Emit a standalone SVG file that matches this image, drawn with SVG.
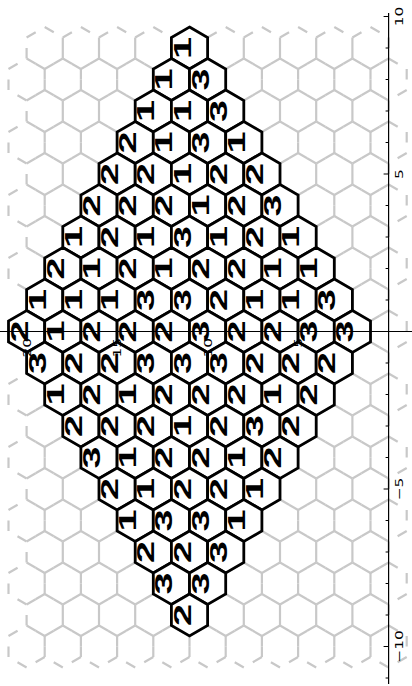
<svg xmlns="http://www.w3.org/2000/svg" width="412" height="686" viewBox="0 0 412 686">
<style>
.g{fill:none;stroke:#c8c8c8;stroke-width:2.2;stroke-dasharray:10.5 60}
.b{fill:#fff;stroke:#000;stroke-width:2.8;stroke-linejoin:miter}
.d{font-family:"Liberation Sans",Arial,sans-serif;font-weight:bold;font-size:24px;text-anchor:middle;fill:#000}
.ax{stroke:#000;stroke-width:1.2;fill:none}
.tl{font-family:"DejaVu Sans",sans-serif;font-size:11px;fill:#000}
</style>
<defs>
<path id="hx" d="M0,-21L18.1,-10.5L18.1,10.5L0,21L-18.1,10.5L-18.1,-10.5Z"/>
<path id="gh" class="g" d="M0,-21L18.1,-10.5M18.1,-10.5L18.1,10.5M18.1,10.5L0,21M0,21L-18.1,10.5M-18.1,10.5L-18.1,-10.5M-18.1,-10.5L0,-21"/>
<g id="rowE"><use href="#gh" x="44.7"/><use href="#gh" x="80.9"/><use href="#gh" x="117.1"/><use href="#gh" x="153.3"/><use href="#gh" x="189.5"/><use href="#gh" x="225.7"/><use href="#gh" x="261.9"/><use href="#gh" x="298.1"/><use href="#gh" x="334.3"/><use href="#gh" x="370.5"/></g>
<g id="rowO"><use href="#gh" x="26.6"/><use href="#gh" x="62.8"/><use href="#gh" x="99"/><use href="#gh" x="135.2"/><use href="#gh" x="171.4"/><use href="#gh" x="207.6"/><use href="#gh" x="243.8"/><use href="#gh" x="280"/><use href="#gh" x="316.2"/><use href="#gh" x="352.4"/><use href="#gh" x="388.6"/></g>
</defs>
<rect width="412" height="686" fill="#fff"/>
<g id="grid">
<use href="#rowE" y="48"/><use href="#rowO" y="79.5"/><use href="#rowE" y="111"/><use href="#rowO" y="142.5"/><use href="#rowE" y="174"/><use href="#rowO" y="205.5"/><use href="#rowE" y="237"/><use href="#rowO" y="268.5"/><use href="#rowE" y="300"/><use href="#rowO" y="331.5"/><use href="#rowE" y="363"/><use href="#rowO" y="394.5"/><use href="#rowE" y="426"/><use href="#rowO" y="457.5"/><use href="#rowE" y="489"/><use href="#rowO" y="520.5"/><use href="#rowE" y="552"/><use href="#rowO" y="583.5"/><use href="#rowE" y="615"/><use href="#rowO" y="646.5"/>
</g>
<g id="nodes">
<g id="n0-0"><use href="#hx" class="b" x="189.5" y="48"/><text class="d" transform="translate(190.5,48) rotate(-90) scale(1.65,1)">1</text></g>
<g id="n1-0"><use href="#hx" class="b" x="171.4" y="79.5"/><text class="d" transform="translate(172.4,79.5) rotate(-90) scale(1.65,1)">1</text></g>
<g id="n1-1"><use href="#hx" class="b" x="207.6" y="79.5"/><text class="d" transform="translate(208.6,79.5) rotate(-90) scale(1.65,1)">3</text></g>
<g id="n2-0"><use href="#hx" class="b" x="153.3" y="111"/><text class="d" transform="translate(154.3,111) rotate(-90) scale(1.65,1)">1</text></g>
<g id="n2-1"><use href="#hx" class="b" x="189.5" y="111"/><text class="d" transform="translate(190.5,111) rotate(-90) scale(1.65,1)">1</text></g>
<g id="n2-2"><use href="#hx" class="b" x="225.7" y="111"/><text class="d" transform="translate(226.7,111) rotate(-90) scale(1.65,1)">3</text></g>
<g id="n3-0"><use href="#hx" class="b" x="135.2" y="142.5"/><text class="d" transform="translate(136.2,142.5) rotate(-90) scale(1.65,1)">2</text></g>
<g id="n3-1"><use href="#hx" class="b" x="171.4" y="142.5"/><text class="d" transform="translate(172.4,142.5) rotate(-90) scale(1.65,1)">1</text></g>
<g id="n3-2"><use href="#hx" class="b" x="207.6" y="142.5"/><text class="d" transform="translate(208.6,142.5) rotate(-90) scale(1.65,1)">3</text></g>
<g id="n3-3"><use href="#hx" class="b" x="243.8" y="142.5"/><text class="d" transform="translate(244.8,142.5) rotate(-90) scale(1.65,1)">1</text></g>
<g id="n4-0"><use href="#hx" class="b" x="117.1" y="174"/><text class="d" transform="translate(118.1,174) rotate(-90) scale(1.65,1)">2</text></g>
<g id="n4-1"><use href="#hx" class="b" x="153.3" y="174"/><text class="d" transform="translate(154.3,174) rotate(-90) scale(1.65,1)">2</text></g>
<g id="n4-2"><use href="#hx" class="b" x="189.5" y="174"/><text class="d" transform="translate(190.5,174) rotate(-90) scale(1.65,1)">1</text></g>
<g id="n4-3"><use href="#hx" class="b" x="225.7" y="174"/><text class="d" transform="translate(226.7,174) rotate(-90) scale(1.65,1)">2</text></g>
<g id="n4-4"><use href="#hx" class="b" x="261.9" y="174"/><text class="d" transform="translate(262.9,174) rotate(-90) scale(1.65,1)">2</text></g>
<g id="n5-0"><use href="#hx" class="b" x="99" y="205.5"/><text class="d" transform="translate(100,205.5) rotate(-90) scale(1.65,1)">2</text></g>
<g id="n5-1"><use href="#hx" class="b" x="135.2" y="205.5"/><text class="d" transform="translate(136.2,205.5) rotate(-90) scale(1.65,1)">2</text></g>
<g id="n5-2"><use href="#hx" class="b" x="171.4" y="205.5"/><text class="d" transform="translate(172.4,205.5) rotate(-90) scale(1.65,1)">2</text></g>
<g id="n5-3"><use href="#hx" class="b" x="207.6" y="205.5"/><text class="d" transform="translate(208.6,205.5) rotate(-90) scale(1.65,1)">1</text></g>
<g id="n5-4"><use href="#hx" class="b" x="243.8" y="205.5"/><text class="d" transform="translate(244.8,205.5) rotate(-90) scale(1.65,1)">2</text></g>
<g id="n5-5"><use href="#hx" class="b" x="280" y="205.5"/><text class="d" transform="translate(281,205.5) rotate(-90) scale(1.65,1)">3</text></g>
<g id="n6-0"><use href="#hx" class="b" x="80.9" y="237"/><text class="d" transform="translate(81.9,237) rotate(-90) scale(1.65,1)">1</text></g>
<g id="n6-1"><use href="#hx" class="b" x="117.1" y="237"/><text class="d" transform="translate(118.1,237) rotate(-90) scale(1.65,1)">2</text></g>
<g id="n6-2"><use href="#hx" class="b" x="153.3" y="237"/><text class="d" transform="translate(154.3,237) rotate(-90) scale(1.65,1)">1</text></g>
<g id="n6-3"><use href="#hx" class="b" x="189.5" y="237"/><text class="d" transform="translate(190.5,237) rotate(-90) scale(1.65,1)">3</text></g>
<g id="n6-4"><use href="#hx" class="b" x="225.7" y="237"/><text class="d" transform="translate(226.7,237) rotate(-90) scale(1.65,1)">1</text></g>
<g id="n6-5"><use href="#hx" class="b" x="261.9" y="237"/><text class="d" transform="translate(262.9,237) rotate(-90) scale(1.65,1)">2</text></g>
<g id="n6-6"><use href="#hx" class="b" x="298.1" y="237"/><text class="d" transform="translate(299.1,237) rotate(-90) scale(1.65,1)">1</text></g>
<g id="n7-0"><use href="#hx" class="b" x="62.8" y="268.5"/><text class="d" transform="translate(63.8,268.5) rotate(-90) scale(1.65,1)">2</text></g>
<g id="n7-1"><use href="#hx" class="b" x="99" y="268.5"/><text class="d" transform="translate(100,268.5) rotate(-90) scale(1.65,1)">1</text></g>
<g id="n7-2"><use href="#hx" class="b" x="135.2" y="268.5"/><text class="d" transform="translate(136.2,268.5) rotate(-90) scale(1.65,1)">2</text></g>
<g id="n7-3"><use href="#hx" class="b" x="171.4" y="268.5"/><text class="d" transform="translate(172.4,268.5) rotate(-90) scale(1.65,1)">1</text></g>
<g id="n7-4"><use href="#hx" class="b" x="207.6" y="268.5"/><text class="d" transform="translate(208.6,268.5) rotate(-90) scale(1.65,1)">2</text></g>
<g id="n7-5"><use href="#hx" class="b" x="243.8" y="268.5"/><text class="d" transform="translate(244.8,268.5) rotate(-90) scale(1.65,1)">2</text></g>
<g id="n7-6"><use href="#hx" class="b" x="280" y="268.5"/><text class="d" transform="translate(281,268.5) rotate(-90) scale(1.65,1)">1</text></g>
<g id="n7-7"><use href="#hx" class="b" x="316.2" y="268.5"/><text class="d" transform="translate(317.2,268.5) rotate(-90) scale(1.65,1)">1</text></g>
<g id="n8-0"><use href="#hx" class="b" x="44.7" y="300"/><text class="d" transform="translate(45.7,300) rotate(-90) scale(1.65,1)">1</text></g>
<g id="n8-1"><use href="#hx" class="b" x="80.9" y="300"/><text class="d" transform="translate(81.9,300) rotate(-90) scale(1.65,1)">1</text></g>
<g id="n8-2"><use href="#hx" class="b" x="117.1" y="300"/><text class="d" transform="translate(118.1,300) rotate(-90) scale(1.65,1)">1</text></g>
<g id="n8-3"><use href="#hx" class="b" x="153.3" y="300"/><text class="d" transform="translate(154.3,300) rotate(-90) scale(1.65,1)">3</text></g>
<g id="n8-4"><use href="#hx" class="b" x="189.5" y="300"/><text class="d" transform="translate(190.5,300) rotate(-90) scale(1.65,1)">3</text></g>
<g id="n8-5"><use href="#hx" class="b" x="225.7" y="300"/><text class="d" transform="translate(226.7,300) rotate(-90) scale(1.65,1)">2</text></g>
<g id="n8-6"><use href="#hx" class="b" x="261.9" y="300"/><text class="d" transform="translate(262.9,300) rotate(-90) scale(1.65,1)">1</text></g>
<g id="n8-7"><use href="#hx" class="b" x="298.1" y="300"/><text class="d" transform="translate(299.1,300) rotate(-90) scale(1.65,1)">1</text></g>
<g id="n8-8"><use href="#hx" class="b" x="334.3" y="300"/><text class="d" transform="translate(335.3,300) rotate(-90) scale(1.65,1)">3</text></g>
<g id="n9-0"><use href="#hx" class="b" x="26.6" y="331.5"/><text class="d" transform="translate(27.6,331.5) rotate(-90) scale(1.65,1)">2</text></g>
<g id="n9-1"><use href="#hx" class="b" x="62.8" y="331.5"/><text class="d" transform="translate(63.8,331.5) rotate(-90) scale(1.65,1)">1</text></g>
<g id="n9-2"><use href="#hx" class="b" x="99" y="331.5"/><text class="d" transform="translate(100,331.5) rotate(-90) scale(1.65,1)">2</text></g>
<g id="n9-3"><use href="#hx" class="b" x="135.2" y="331.5"/><text class="d" transform="translate(136.2,331.5) rotate(-90) scale(1.65,1)">2</text></g>
<g id="n9-4"><use href="#hx" class="b" x="171.4" y="331.5"/><text class="d" transform="translate(172.4,331.5) rotate(-90) scale(1.65,1)">2</text></g>
<g id="n9-5"><use href="#hx" class="b" x="207.6" y="331.5"/><text class="d" transform="translate(208.6,331.5) rotate(-90) scale(1.65,1)">3</text></g>
<g id="n9-6"><use href="#hx" class="b" x="243.8" y="331.5"/><text class="d" transform="translate(244.8,331.5) rotate(-90) scale(1.65,1)">2</text></g>
<g id="n9-7"><use href="#hx" class="b" x="280" y="331.5"/><text class="d" transform="translate(281,331.5) rotate(-90) scale(1.65,1)">2</text></g>
<g id="n9-8"><use href="#hx" class="b" x="316.2" y="331.5"/><text class="d" transform="translate(317.2,331.5) rotate(-90) scale(1.65,1)">3</text></g>
<g id="n9-9"><use href="#hx" class="b" x="352.4" y="331.5"/><text class="d" transform="translate(353.4,331.5) rotate(-90) scale(1.65,1)">3</text></g>
<g id="n10-0"><use href="#hx" class="b" x="44.7" y="363"/><text class="d" transform="translate(45.7,363) rotate(-90) scale(1.65,1)">3</text></g>
<g id="n10-1"><use href="#hx" class="b" x="80.9" y="363"/><text class="d" transform="translate(81.9,363) rotate(-90) scale(1.65,1)">2</text></g>
<g id="n10-2"><use href="#hx" class="b" x="117.1" y="363"/><text class="d" transform="translate(118.1,363) rotate(-90) scale(1.65,1)">2</text></g>
<g id="n10-3"><use href="#hx" class="b" x="153.3" y="363"/><text class="d" transform="translate(154.3,363) rotate(-90) scale(1.65,1)">3</text></g>
<g id="n10-4"><use href="#hx" class="b" x="189.5" y="363"/><text class="d" transform="translate(190.5,363) rotate(-90) scale(1.65,1)">3</text></g>
<g id="n10-5"><use href="#hx" class="b" x="225.7" y="363"/><text class="d" transform="translate(226.7,363) rotate(-90) scale(1.65,1)">3</text></g>
<g id="n10-6"><use href="#hx" class="b" x="261.9" y="363"/><text class="d" transform="translate(262.9,363) rotate(-90) scale(1.65,1)">2</text></g>
<g id="n10-7"><use href="#hx" class="b" x="298.1" y="363"/><text class="d" transform="translate(299.1,363) rotate(-90) scale(1.65,1)">2</text></g>
<g id="n10-8"><use href="#hx" class="b" x="334.3" y="363"/><text class="d" transform="translate(335.3,363) rotate(-90) scale(1.65,1)">2</text></g>
<g id="n11-0"><use href="#hx" class="b" x="62.8" y="394.5"/><text class="d" transform="translate(63.8,394.5) rotate(-90) scale(1.65,1)">1</text></g>
<g id="n11-1"><use href="#hx" class="b" x="99" y="394.5"/><text class="d" transform="translate(100,394.5) rotate(-90) scale(1.65,1)">2</text></g>
<g id="n11-2"><use href="#hx" class="b" x="135.2" y="394.5"/><text class="d" transform="translate(136.2,394.5) rotate(-90) scale(1.65,1)">1</text></g>
<g id="n11-3"><use href="#hx" class="b" x="171.4" y="394.5"/><text class="d" transform="translate(172.4,394.5) rotate(-90) scale(1.65,1)">2</text></g>
<g id="n11-4"><use href="#hx" class="b" x="207.6" y="394.5"/><text class="d" transform="translate(208.6,394.5) rotate(-90) scale(1.65,1)">2</text></g>
<g id="n11-5"><use href="#hx" class="b" x="243.8" y="394.5"/><text class="d" transform="translate(244.8,394.5) rotate(-90) scale(1.65,1)">2</text></g>
<g id="n11-6"><use href="#hx" class="b" x="280" y="394.5"/><text class="d" transform="translate(281,394.5) rotate(-90) scale(1.65,1)">1</text></g>
<g id="n11-7"><use href="#hx" class="b" x="316.2" y="394.5"/><text class="d" transform="translate(317.2,394.5) rotate(-90) scale(1.65,1)">2</text></g>
<g id="n12-0"><use href="#hx" class="b" x="80.9" y="426"/><text class="d" transform="translate(81.9,426) rotate(-90) scale(1.65,1)">2</text></g>
<g id="n12-1"><use href="#hx" class="b" x="117.1" y="426"/><text class="d" transform="translate(118.1,426) rotate(-90) scale(1.65,1)">2</text></g>
<g id="n12-2"><use href="#hx" class="b" x="153.3" y="426"/><text class="d" transform="translate(154.3,426) rotate(-90) scale(1.65,1)">2</text></g>
<g id="n12-3"><use href="#hx" class="b" x="189.5" y="426"/><text class="d" transform="translate(190.5,426) rotate(-90) scale(1.65,1)">1</text></g>
<g id="n12-4"><use href="#hx" class="b" x="225.7" y="426"/><text class="d" transform="translate(226.7,426) rotate(-90) scale(1.65,1)">2</text></g>
<g id="n12-5"><use href="#hx" class="b" x="261.9" y="426"/><text class="d" transform="translate(262.9,426) rotate(-90) scale(1.65,1)">3</text></g>
<g id="n12-6"><use href="#hx" class="b" x="298.1" y="426"/><text class="d" transform="translate(299.1,426) rotate(-90) scale(1.65,1)">2</text></g>
<g id="n13-0"><use href="#hx" class="b" x="99" y="457.5"/><text class="d" transform="translate(100,457.5) rotate(-90) scale(1.65,1)">3</text></g>
<g id="n13-1"><use href="#hx" class="b" x="135.2" y="457.5"/><text class="d" transform="translate(136.2,457.5) rotate(-90) scale(1.65,1)">1</text></g>
<g id="n13-2"><use href="#hx" class="b" x="171.4" y="457.5"/><text class="d" transform="translate(172.4,457.5) rotate(-90) scale(1.65,1)">2</text></g>
<g id="n13-3"><use href="#hx" class="b" x="207.6" y="457.5"/><text class="d" transform="translate(208.6,457.5) rotate(-90) scale(1.65,1)">2</text></g>
<g id="n13-4"><use href="#hx" class="b" x="243.8" y="457.5"/><text class="d" transform="translate(244.8,457.5) rotate(-90) scale(1.65,1)">1</text></g>
<g id="n13-5"><use href="#hx" class="b" x="280" y="457.5"/><text class="d" transform="translate(281,457.5) rotate(-90) scale(1.65,1)">2</text></g>
<g id="n14-0"><use href="#hx" class="b" x="117.1" y="489"/><text class="d" transform="translate(118.1,489) rotate(-90) scale(1.65,1)">2</text></g>
<g id="n14-1"><use href="#hx" class="b" x="153.3" y="489"/><text class="d" transform="translate(154.3,489) rotate(-90) scale(1.65,1)">1</text></g>
<g id="n14-2"><use href="#hx" class="b" x="189.5" y="489"/><text class="d" transform="translate(190.5,489) rotate(-90) scale(1.65,1)">2</text></g>
<g id="n14-3"><use href="#hx" class="b" x="225.7" y="489"/><text class="d" transform="translate(226.7,489) rotate(-90) scale(1.65,1)">2</text></g>
<g id="n14-4"><use href="#hx" class="b" x="261.9" y="489"/><text class="d" transform="translate(262.9,489) rotate(-90) scale(1.65,1)">1</text></g>
<g id="n15-0"><use href="#hx" class="b" x="135.2" y="520.5"/><text class="d" transform="translate(136.2,520.5) rotate(-90) scale(1.65,1)">1</text></g>
<g id="n15-1"><use href="#hx" class="b" x="171.4" y="520.5"/><text class="d" transform="translate(172.4,520.5) rotate(-90) scale(1.65,1)">3</text></g>
<g id="n15-2"><use href="#hx" class="b" x="207.6" y="520.5"/><text class="d" transform="translate(208.6,520.5) rotate(-90) scale(1.65,1)">3</text></g>
<g id="n15-3"><use href="#hx" class="b" x="243.8" y="520.5"/><text class="d" transform="translate(244.8,520.5) rotate(-90) scale(1.65,1)">1</text></g>
<g id="n16-0"><use href="#hx" class="b" x="153.3" y="552"/><text class="d" transform="translate(154.3,552) rotate(-90) scale(1.65,1)">2</text></g>
<g id="n16-1"><use href="#hx" class="b" x="189.5" y="552"/><text class="d" transform="translate(190.5,552) rotate(-90) scale(1.65,1)">2</text></g>
<g id="n16-2"><use href="#hx" class="b" x="225.7" y="552"/><text class="d" transform="translate(226.7,552) rotate(-90) scale(1.65,1)">3</text></g>
<g id="n17-0"><use href="#hx" class="b" x="171.4" y="583.5"/><text class="d" transform="translate(172.4,583.5) rotate(-90) scale(1.65,1)">3</text></g>
<g id="n17-1"><use href="#hx" class="b" x="207.6" y="583.5"/><text class="d" transform="translate(208.6,583.5) rotate(-90) scale(1.65,1)">3</text></g>
<g id="n18-0"><use href="#hx" class="b" x="189.5" y="615"/><text class="d" transform="translate(190.5,615) rotate(-90) scale(1.65,1)">2</text></g>
</g>
<g id="axes">
<path class="ax" d="M0,331.5H412M388.6,13V684"/>
<path class="ax" d="M383.6,16.5H388.6M385.6,48H388.6M385.6,79.5H388.6M385.6,111H388.6M385.6,142.5H388.6M383.6,174H388.6M385.6,205.5H388.6M385.6,237H388.6M385.6,268.5H388.6M385.6,300H388.6M385.6,363H388.6M385.6,394.5H388.6M385.6,426H388.6M385.6,457.5H388.6M383.6,489H388.6M385.6,520.5H388.6M385.6,552H388.6M385.6,583.5H388.6M385.6,615H388.6M383.6,646.5H388.6M385.6,678H388.6"/>
<text class="tl" text-anchor="middle" transform="translate(403,16.5) rotate(-90) scale(1.4,1)">10</text>
<text class="tl" text-anchor="middle" transform="translate(403,174) rotate(-90) scale(1.4,1)">5</text>
<text class="tl" text-anchor="middle" transform="translate(403,489) rotate(-90) scale(1.4,1)">−5</text>
<text class="tl" text-anchor="middle" transform="translate(403,646.5) rotate(-90) scale(1.4,1)">−10</text>
<text class="tl" text-anchor="end" transform="translate(31,338) rotate(-90) scale(1.4,1)">20</text>
<text class="tl" text-anchor="end" transform="translate(121,338) rotate(-90) scale(1.4,1)">15</text>
<text class="tl" text-anchor="end" transform="translate(211.6,338) rotate(-90) scale(1.4,1)">10</text>
<text class="tl" text-anchor="end" transform="translate(301.5,338) rotate(-90) scale(1.4,1)">5</text>
</g>
</svg>
